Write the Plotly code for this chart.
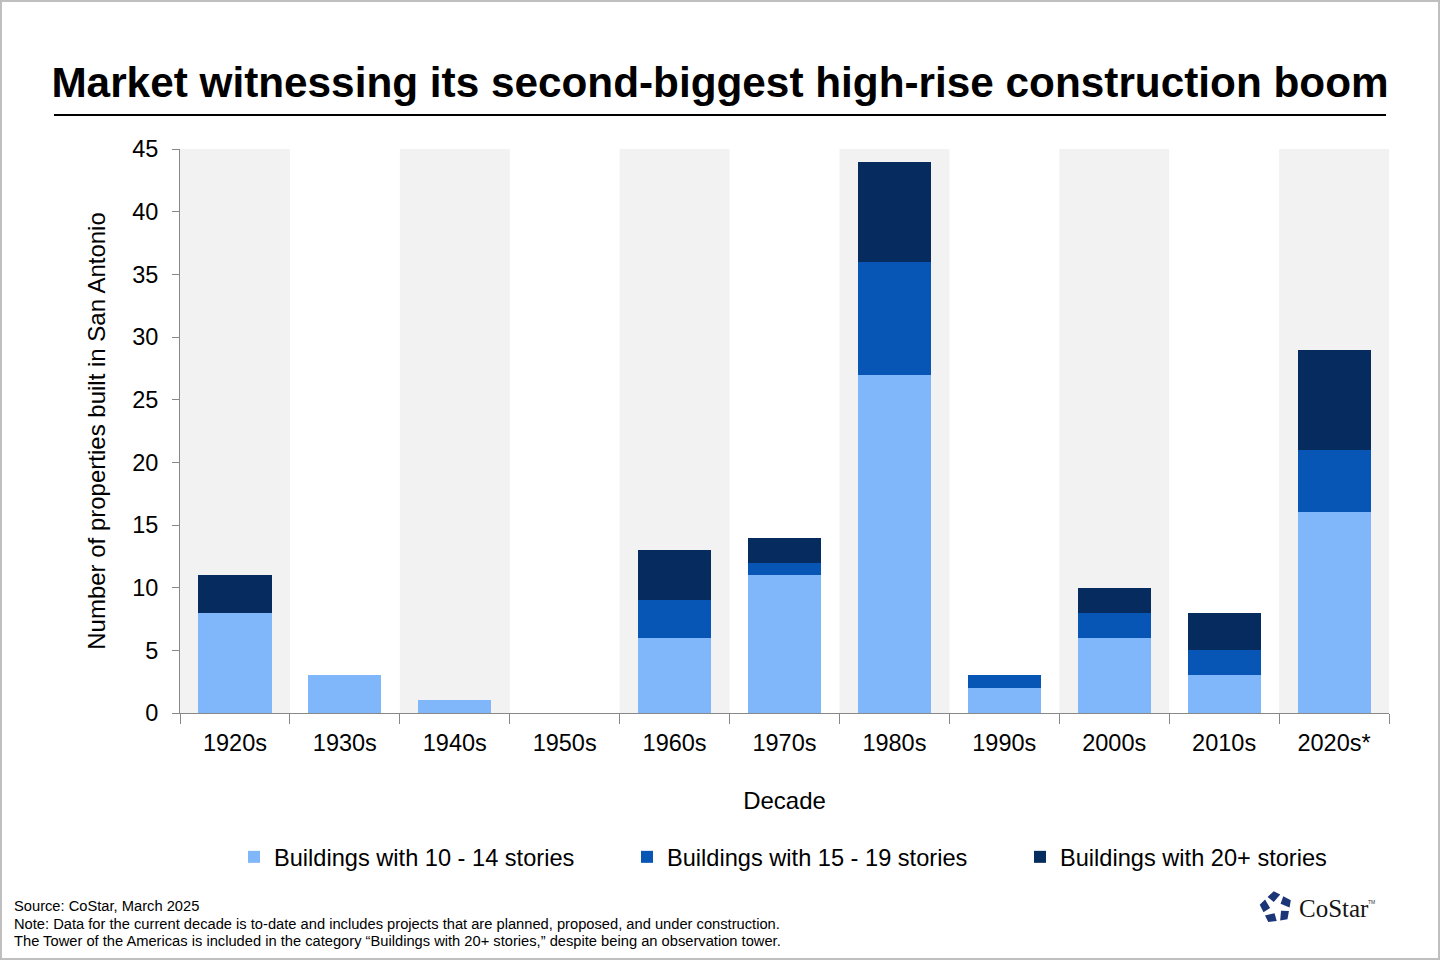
import math
import plotly.graph_objects as go

# ---- data ----
decades = ["1920s", "1930s", "1940s", "1950s", "1960s", "1970s", "1980s",
           "1990s", "2000s", "2010s", "2020s*"]
s10_14 = [8, 3, 1, 0, 6, 11, 27, 2, 6, 3, 16]
s15_19 = [0, 0, 0, 0, 3, 1, 9, 1, 2, 2, 5]
s20_plus = [3, 0, 0, 0, 4, 2, 8, 0, 2, 3, 8]
series_names = ["Buildings with 10 - 14 stories",
                "Buildings with 15 - 19 stories",
                "Buildings with 20+ stories"]
y_max = 45
y_ticks = [0, 5, 10, 15, 20, 25, 30, 35, 40, 45]

# ---- layout geometry ----
W, H = 1440, 960
ML, MR, MT, MB = 180, 51, 149, 247
PW, PH = W - ML - MR, H - MT - MB

def px(x):
    return (x - ML) / PW

def py(y):
    return (H - MB - y) / PH

colors = ["#7FB7FA", "#0755B4", "#062B5E"]
FONT = "Liberation Sans, Arial, sans-serif"

fig = go.Figure()
for name, vals, col in zip(series_names, [s10_14, s15_19, s20_plus], colors):
    fig.add_trace(go.Bar(x=decades, y=vals, name=name, marker_color=col,
                         marker_line_width=0))

shapes = []
# alternating gray bands
for i in range(0, len(decades), 2):
    shapes.append(dict(type="rect", xref="x", yref="y", x0=i - 0.5, x1=i + 0.5,
                       y0=0, y1=y_max, fillcolor="#F2F2F2", line_width=0,
                       layer="below"))
# title underline
shapes.append(dict(type="line", xref="paper", yref="paper", x0=px(54), x1=px(1386),
                   y0=py(115), y1=py(115), line=dict(color="black", width=2)))
# outer border
shapes.append(dict(type="rect", xref="paper", yref="paper", x0=px(1), x1=px(1439),
                   y0=py(1), y1=py(959), line=dict(color="#BFBFBF", width=2)))

# CoStar logo icon (decoration): pentagon with a star cut out, pinwheel pieces
cx, cy, R = 1276, 907.5, 16.5
rot = 8
V = [(cx + R * math.cos(math.radians(90 + rot + 72 * k)),
      cy - R * math.sin(math.radians(90 + rot + 72 * k))) for k in range(5)]
def lerp(p, q, t):
    return (p[0] + (q[0] - p[0]) * t, p[1] + (q[1] - p[1]) * t)
for k in range(5):
    vp, v, vn = V[(k - 1) % 5], V[k], V[(k + 1) % 5]
    p1 = lerp(vp, v, 0.62)
    p2 = lerp(v, vn, 0.44)
    ang = math.radians(90 + rot + 72 * k + 14)
    inner = (cx + 0.36 * R * math.cos(ang), cy - 0.36 * R * math.sin(ang))
    pts = [p1, v, p2, inner]
    path = "M " + " L ".join("{} {}".format(px(a), py(b)) for a, b in pts) + " Z"
    shapes.append(dict(type="path", xref="paper", yref="paper", path=path,
                       fillcolor="#1B3577", line_width=0))

annotations = [
    dict(text="Source: CoStar, March 2025", x=px(12), y=py(906)),
    dict(text="Note: Data for the current decade is to-date and includes projects that are planned, proposed, and under construction.",
         x=px(12), y=py(924)),
    dict(text="The Tower of the Americas is included in the category \u201cBuildings with 20+ stories,\u201d despite being an observation tower.",
         x=px(12), y=py(941)),
]
for a in annotations:
    a.update(xref="paper", yref="paper", xanchor="left", yanchor="middle",
             showarrow=False, font=dict(family=FONT, size=14.7, color="black"))
annotations.append(dict(text="CoStar", x=px(1297), y=py(908), xref="paper", yref="paper",
                        xanchor="left", yanchor="middle", showarrow=False,
                        font=dict(family="Liberation Serif, Times New Roman, serif",
                                  size=25, color="#151515")))
annotations.append(dict(text="TM", x=px(1366), y=py(902), xref="paper", yref="paper",
                        xanchor="left", yanchor="middle", showarrow=False,
                        font=dict(family=FONT, size=5, color="#333")))

fig.update_layout(
    width=W, height=H,
    margin=dict(l=ML, r=MR, t=MT, b=MB),
    paper_bgcolor="white", plot_bgcolor="white",
    barmode="stack", bargap=0.335,
    font=dict(family=FONT, color="black"),
    title=dict(text="<b>Market witnessing its second-biggest high-rise construction boom</b>",
               x=0.5, xref="container", xanchor="center",
               y=1 - 82 / H, yref="container", yanchor="middle",
               font=dict(family=FONT, size=42.3, color="black")),
    xaxis=dict(type="category", showgrid=False, showline=True, linecolor="#888888",
               linewidth=1, ticks="outside", tickson="boundaries", ticklen=10,
               tickcolor="#888888", tickfont=dict(size=23.5), ticklabelstandoff=9,
               title=dict(text="Decade", font=dict(size=24), standoff=36)),
    yaxis=dict(range=[0, y_max], tickvals=y_ticks, showgrid=False, zeroline=False,
               showline=True, linecolor="#888888", linewidth=1, ticks="outside",
               ticklen=7, tickcolor="#888888", tickfont=dict(size=23.5),
               ticklabelstandoff=9,
               title=dict(text="Number of properties built in San Antonio",
                          font=dict(size=24), standoff=19)),
    legend=dict(orientation="h", x=234 / W, xref="container", xanchor="left",
                y=1 - 857 / H, yref="container", yanchor="middle",
                traceorder="normal",
                font=dict(size=23.6), entrywidth=348, entrywidthmode="pixels",
                itemclick=False, itemdoubleclick=False),
    shapes=shapes,
    annotations=annotations,
    showlegend=True,
)

fig.write_html("out.html", config={"displayModeBar": False},
               post_script="document.body.style.margin='0';document.body.style.overflow='hidden';")
